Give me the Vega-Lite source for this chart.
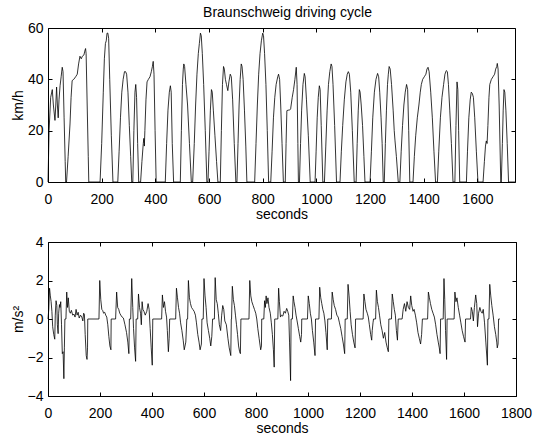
{
  "$schema": "https://vega.github.io/schema/vega-lite/v6.json",
  "padding": {"left": 10, "top": 5, "right": 5, "bottom": 2},
  "background": "white",
  "config": {
    "view": {"stroke": "black", "strokeWidth": 1},
    "font": "Liberation Sans",
    "axis": {
      "domain": false, "grid": false, "format": "d",
      "tickColor": "black", "tickSize": -4, "tickWidth": 1,
      "labelFont": "Liberation Sans", "titleFont": "Liberation Sans",
      "labelFontSize": 14, "titleFontSize": 14, "titleFontWeight": "normal",
      "labelColor": "black", "titleColor": "black",
      "labelFlush": false, "labelOverlap": false
    },
    "axisX": {"labelPadding": 14, "titlePadding": 1},
    "axisY": {"labelPadding": 9, "titlePadding": 2},
    "title": {"font": "Liberation Sans", "fontSize": 14, "fontWeight": "normal", "color": "black"}
  },
  "spacing": 12,
  "datasets": {
    "speed": [
      {"t":0,"v":0},{"t":4,"v":20},{"t":10,"v":33},{"t":16,"v":36},{"t":20,"v":30},{"t":26,"v":24},{"t":29,"v":30},{"t":32,"v":37},{"t":35,"v":30},{"t":38,"v":25},{"t":41,"v":32},{"t":45,"v":37.5},{"t":49,"v":41},{"t":53,"v":44.7},{"t":56,"v":43},{"t":60,"v":25},{"t":64,"v":8},{"t":66,"v":0},
      {"t":69,"v":0},{"t":75,"v":10},{"t":82,"v":22.6},{"t":86,"v":33},{"t":90,"v":39.5},{"t":96,"v":40},{"t":103,"v":41},{"t":109,"v":42},{"t":114,"v":46},{"t":119,"v":49},{"t":124,"v":48},{"t":128,"v":49},{"t":134,"v":49.5},{"t":137,"v":51},{"t":140,"v":52},{"t":142,"v":50},{"t":146,"v":30},{"t":150,"v":10},{"t":152,"v":0},
      {"t":194,"v":0},{"t":200,"v":15},{"t":206,"v":35},{"t":210,"v":48},{"t":214,"v":54},{"t":217,"v":55},{"t":220,"v":58},{"t":223,"v":58},{"t":226,"v":56},{"t":230,"v":40},{"t":236,"v":18},{"t":242,"v":0},
      {"t":260,"v":0},{"t":265,"v":12},{"t":270,"v":25},{"t":275,"v":35},{"t":280,"v":40},{"t":285,"v":43},{"t":289,"v":43},{"t":293,"v":42},{"t":298,"v":35},{"t":303,"v":22},{"t":308,"v":10},{"t":312,"v":0},
      {"t":316,"v":0},{"t":320,"v":20},{"t":324,"v":35},{"t":327,"v":38},{"t":330,"v":33},{"t":334,"v":15},{"t":338,"v":0},
      {"t":345,"v":0},{"t":350,"v":8},{"t":355,"v":15},{"t":357,"v":17},{"t":359,"v":14},{"t":361,"v":20},{"t":365,"v":32},{"t":369,"v":39},{"t":374,"v":40},{"t":380,"v":41},{"t":385,"v":43},{"t":389,"v":45},{"t":392,"v":47},{"t":395,"v":42},{"t":399,"v":20},{"t":403,"v":0},
      {"t":437,"v":0},{"t":442,"v":15},{"t":447,"v":28},{"t":452,"v":35},{"t":456,"v":37.5},{"t":459,"v":35},{"t":463,"v":15},{"t":468,"v":0},
      {"t":493,"v":0},{"t":497,"v":20},{"t":501,"v":38},{"t":504,"v":44},{"t":506,"v":46},{"t":509,"v":45},{"t":514,"v":38},{"t":520,"v":30},{"t":527,"v":15},{"t":534,"v":0},
      {"t":539,"v":0},{"t":545,"v":15},{"t":550,"v":30},{"t":555,"v":42},{"t":560,"v":50},{"t":564,"v":54},{"t":568,"v":58},{"t":571,"v":57},{"t":575,"v":50},{"t":580,"v":38},{"t":586,"v":20},{"t":592,"v":0},
      {"t":596,"v":0},{"t":600,"v":12},{"t":605,"v":28},{"t":609,"v":36},{"t":612,"v":35},{"t":616,"v":28},{"t":622,"v":18},{"t":628,"v":8},{"t":633,"v":0},
      {"t":642,"v":0},{"t":646,"v":20},{"t":650,"v":38},{"t":654,"v":45},{"t":657,"v":44},{"t":661,"v":40},{"t":665,"v":38},{"t":670,"v":35.6},{"t":674,"v":39},{"t":679,"v":42},{"t":683,"v":41},{"t":688,"v":32},{"t":694,"v":15},{"t":700,"v":0},
      {"t":704,"v":0},{"t":708,"v":15},{"t":712,"v":30},{"t":716,"v":40},{"t":720,"v":46},{"t":723,"v":45},{"t":727,"v":40},{"t":732,"v":28},{"t":737,"v":14},{"t":741,"v":0},
      {"t":770,"v":0},{"t":775,"v":15},{"t":780,"v":30},{"t":785,"v":42},{"t":790,"v":50},{"t":795,"v":55},{"t":800,"v":58},{"t":803,"v":57},{"t":807,"v":50},{"t":812,"v":38},{"t":817,"v":20},{"t":822,"v":0},
      {"t":830,"v":0},{"t":835,"v":12},{"t":840,"v":25},{"t":845,"v":33},{"t":850,"v":38},{"t":856,"v":41},{"t":859,"v":42},{"t":863,"v":40},{"t":867,"v":30},{"t":872,"v":15},{"t":877,"v":0},
      {"t":884,"v":0},{"t":887,"v":15},{"t":890,"v":27.8},{"t":895,"v":28},{"t":900,"v":28},{"t":904,"v":28.5},{"t":910,"v":33},{"t":915,"v":36},{"t":920,"v":40},{"t":925,"v":44.7},{"t":928,"v":38},{"t":931,"v":15},{"t":933,"v":0},
      {"t":937,"v":0},{"t":941,"v":15},{"t":945,"v":28},{"t":950,"v":38},{"t":955,"v":42.3},{"t":958,"v":41},{"t":963,"v":32},{"t":970,"v":18},{"t":977,"v":0},
      {"t":995,"v":0},{"t":999,"v":12},{"t":1003,"v":25},{"t":1007,"v":33},{"t":1011,"v":37.5},{"t":1014,"v":36},{"t":1018,"v":22},{"t":1024,"v":0},
      {"t":1030,"v":0},{"t":1035,"v":14},{"t":1040,"v":28},{"t":1045,"v":38},{"t":1050,"v":43},{"t":1055,"v":46},{"t":1058,"v":45},{"t":1062,"v":38},{"t":1068,"v":22},{"t":1075,"v":0},
      {"t":1088,"v":0},{"t":1093,"v":12},{"t":1098,"v":22},{"t":1104,"v":32},{"t":1110,"v":39},{"t":1115,"v":42},{"t":1119,"v":43},{"t":1123,"v":42},{"t":1128,"v":35},{"t":1134,"v":20},{"t":1141,"v":0},
      {"t":1148,"v":0},{"t":1152,"v":15},{"t":1156,"v":28},{"t":1160,"v":36},{"t":1163,"v":35},{"t":1167,"v":30},{"t":1172,"v":22},{"t":1177,"v":10},{"t":1181,"v":0},
      {"t":1200,"v":0},{"t":1205,"v":12},{"t":1210,"v":25},{"t":1216,"v":35},{"t":1222,"v":40},{"t":1228,"v":42.3},{"t":1232,"v":41},{"t":1236,"v":35},{"t":1241,"v":25},{"t":1245,"v":15},{"t":1249,"v":0},
      {"t":1253,"v":0},{"t":1257,"v":15},{"t":1261,"v":28},{"t":1265,"v":38},{"t":1268,"v":42},{"t":1271,"v":45},{"t":1275,"v":44},{"t":1280,"v":38},{"t":1286,"v":28},{"t":1290,"v":20},{"t":1293,"v":16},{"t":1298,"v":10},{"t":1305,"v":0},
      {"t":1311,"v":0},{"t":1316,"v":12},{"t":1321,"v":22},{"t":1326,"v":30},{"t":1331,"v":35},{"t":1336,"v":38},{"t":1340,"v":36},{"t":1344,"v":20},{"t":1348,"v":0},
      {"t":1360,"v":0},{"t":1365,"v":10},{"t":1370,"v":18},{"t":1376,"v":25},{"t":1382,"v":30},{"t":1387,"v":35},{"t":1391,"v":38},{"t":1396,"v":40},{"t":1402,"v":41},{"t":1408,"v":42},{"t":1412,"v":44},{"t":1416,"v":44.7},{"t":1420,"v":43},{"t":1426,"v":35},{"t":1432,"v":25},{"t":1438,"v":12},{"t":1444,"v":0},
      {"t":1451,"v":0},{"t":1456,"v":12},{"t":1462,"v":25},{"t":1468,"v":33},{"t":1474,"v":38},{"t":1479,"v":42},{"t":1484,"v":43.4},{"t":1488,"v":43},{"t":1492,"v":38},{"t":1497,"v":28},{"t":1503,"v":15},{"t":1509,"v":0},
      {"t":1516,"v":0},{"t":1520,"v":22},{"t":1524,"v":39},{"t":1527,"v":36},{"t":1530,"v":20},{"t":1534,"v":0},
      {"t":1559,"v":0},{"t":1563,"v":12},{"t":1568,"v":25},{"t":1573,"v":32},{"t":1577,"v":35},{"t":1581,"v":34.5},{"t":1585,"v":33},{"t":1590,"v":25},{"t":1596,"v":12},{"t":1602,"v":0},
      {"t":1621,"v":0},{"t":1626,"v":8},{"t":1630,"v":14},{"t":1633,"v":16},{"t":1636,"v":15},{"t":1639,"v":22},{"t":1643,"v":33},{"t":1646,"v":38},{"t":1652,"v":40},{"t":1658,"v":41},{"t":1664,"v":42},{"t":1668,"v":44},{"t":1672,"v":45},{"t":1674,"v":46.2},{"t":1677,"v":44},{"t":1681,"v":30},{"t":1687,"v":0},
      {"t":1689,"v":0},{"t":1693,"v":15},{"t":1696,"v":28},{"t":1699,"v":36},{"t":1702,"v":35},{"t":1706,"v":28},{"t":1711,"v":15},{"t":1716,"v":0},{"t":1740,"v":0}
    ],
    "accel": [
      {"t":0,"a":0},{"t":3,"a":0.5},{"t":6,"a":1.6},{"t":9,"a":1.2},{"t":12,"a":0.9},{"t":15,"a":0.4},{"t":18,"a":-0.4},{"t":22,"a":-0.8},{"t":26,"a":-1.05},{"t":28,"a":0.2},{"t":31,"a":0.95},{"t":34,"a":0.7},{"t":36,"a":-0.3},{"t":39,"a":-0.76},{"t":41,"a":0.3},{"t":44,"a":0.75},{"t":46,"a":0.6},{"t":49,"a":0.9},{"t":52,"a":-0.3},{"t":55,"a":-1.8},{"t":58,"a":-1.7},{"t":61,"a":-3.1},{"t":63,"a":-1.5},{"t":65,"a":0},
      {"t":69,"a":0},{"t":72,"a":1.4},{"t":75,"a":0.6},{"t":78,"a":1.1},{"t":82,"a":0.4},{"t":86,"a":0.3},{"t":90,"a":0.45},{"t":95,"a":0.2},{"t":100,"a":0.25},{"t":104,"a":0.1},{"t":108,"a":0.5},{"t":112,"a":0.2},{"t":116,"a":0.35},{"t":120,"a":0.05},{"t":125,"a":0.2},{"t":130,"a":0.1},{"t":134,"a":-0.1},{"t":137,"a":0.3},{"t":140,"a":0.25},{"t":143,"a":-0.8},{"t":147,"a":-1.9},{"t":150,"a":-2.1},{"t":152,"a":-1.5},{"t":153,"a":0},
      {"t":196,"a":0},{"t":199,"a":2.0},{"t":203,"a":1.0},{"t":207,"a":0.5},{"t":210,"a":0.45},{"t":214,"a":0.3},{"t":218,"a":0.35},{"t":222,"a":0.2},{"t":226,"a":0.1},{"t":230,"a":-0.3},{"t":234,"a":-0.9},{"t":238,"a":-1.4},{"t":242,"a":-1.6},{"t":243,"a":0},
      {"t":260,"a":0},{"t":264,"a":1.4},{"t":268,"a":0.6},{"t":272,"a":0.5},{"t":276,"a":0.3},{"t":280,"a":0.2},{"t":285,"a":0.1},{"t":290,"a":0.05},{"t":296,"a":-0.3},{"t":302,"a":-0.7},{"t":307,"a":-1.2},{"t":311,"a":-1.8},{"t":313,"a":0},
      {"t":318,"a":0},{"t":322,"a":2.1},{"t":326,"a":0.6},{"t":329,"a":-0.5},{"t":333,"a":-1.5},{"t":337,"a":-2.2},{"t":339,"a":0},
      {"t":345,"a":0},{"t":348,"a":1.3},{"t":352,"a":0.6},{"t":356,"a":0.3},{"t":359,"a":-0.3},{"t":362,"a":0.9},{"t":365,"a":0.5},{"t":369,"a":0.4},{"t":374,"a":0.2},{"t":380,"a":0.4},{"t":385,"a":0.8},{"t":389,"a":0.5},{"t":393,"a":-0.5},{"t":397,"a":-1.5},{"t":401,"a":-2.4},{"t":403,"a":0},
      {"t":437,"a":0},{"t":440,"a":1.25},{"t":444,"a":0.6},{"t":448,"a":0.9},{"t":452,"a":0.4},{"t":456,"a":0.1},{"t":459,"a":-0.6},{"t":463,"a":-1.7},{"t":466,"a":-1.0},{"t":468,"a":0},
      {"t":491,"a":0},{"t":494,"a":1.6},{"t":498,"a":1.1},{"t":502,"a":0.6},{"t":506,"a":0.3},{"t":510,"a":-0.2},{"t":515,"a":-0.6},{"t":520,"a":-1.1},{"t":524,"a":-1.6},{"t":530,"a":-1.2},{"t":534,"a":0},
      {"t":537,"a":0},{"t":540,"a":2.0},{"t":544,"a":1.1},{"t":548,"a":0.8},{"t":552,"a":0.6},{"t":557,"a":0.5},{"t":562,"a":0.4},{"t":567,"a":0.2},{"t":571,"a":-0.2},{"t":576,"a":-0.8},{"t":581,"a":-1.2},{"t":585,"a":-1.6},{"t":590,"a":-1.3},{"t":592,"a":0},
      {"t":597,"a":0},{"t":600,"a":2.1},{"t":604,"a":1.2},{"t":608,"a":0.6},{"t":612,"a":-0.2},{"t":617,"a":-0.6},{"t":622,"a":-1.0},{"t":626,"a":-1.4},{"t":630,"a":-0.9},{"t":633,"a":0},
      {"t":640,"a":0},{"t":643,"a":2.15},{"t":647,"a":1.0},{"t":651,"a":0.8},{"t":655,"a":0.3},{"t":659,"a":-0.3},{"t":664,"a":-0.6},{"t":668,"a":0.2},{"t":672,"a":0.7},{"t":676,"a":0.5},{"t":680,"a":-0.1},{"t":686,"a":-0.3},{"t":692,"a":-1.0},{"t":697,"a":-1.5},{"t":703,"a":-1.9},{"t":705,"a":0},
      {"t":706,"a":0},{"t":709,"a":1.7},{"t":713,"a":1.0},{"t":717,"a":0.7},{"t":721,"a":0.2},{"t":725,"a":-0.3},{"t":729,"a":-0.8},{"t":733,"a":-1.4},{"t":737,"a":-1.7},{"t":740,"a":-1.8},{"t":742,"a":0},
      {"t":773,"a":0},{"t":776,"a":2.0},{"t":780,"a":1.2},{"t":784,"a":0.9},{"t":789,"a":0.7},{"t":794,"a":0.5},{"t":799,"a":0.3},{"t":803,"a":0},{"t":807,"a":-0.5},{"t":812,"a":-1.0},{"t":818,"a":-1.6},{"t":821,"a":-1.4},{"t":822,"a":0},
      {"t":830,"a":0},{"t":833,"a":0.95},{"t":836,"a":0.6},{"t":839,"a":1.2},{"t":842,"a":0.8},{"t":846,"a":1.1},{"t":850,"a":0.6},{"t":855,"a":0.3},{"t":859,"a":-0.2},{"t":863,"a":-0.8},{"t":867,"a":-1.6},{"t":870,"a":-2.5},{"t":872,"a":0},
      {"t":884,"a":0},{"t":887,"a":1.6},{"t":890,"a":0.9},{"t":894,"a":0.1},{"t":898,"a":0.2},{"t":903,"a":0.15},{"t":908,"a":0.4},{"t":913,"a":0.3},{"t":918,"a":0.55},{"t":922,"a":0.4},{"t":926,"a":0.2},{"t":929,"a":-1.2},{"t":933,"a":-3.2},{"t":935,"a":0},
      {"t":940,"a":0},{"t":943,"a":1.2},{"t":946,"a":0.9},{"t":950,"a":0.6},{"t":954,"a":0.2},{"t":958,"a":-0.1},{"t":963,"a":-0.5},{"t":968,"a":-0.9},{"t":972,"a":-1.2},{"t":975,"a":-0.8},{"t":976,"a":0},
      {"t":998,"a":0},{"t":1001,"a":1.2},{"t":1005,"a":0.8},{"t":1009,"a":0.3},{"t":1013,"a":0},{"t":1017,"a":-0.6},{"t":1022,"a":-1.2},{"t":1027,"a":-1.9},{"t":1029,"a":0},
      {"t":1042,"a":0},{"t":1045,"a":1.65},{"t":1049,"a":1.1},{"t":1053,"a":0.8},{"t":1057,"a":0.5},{"t":1061,"a":0.3},{"t":1065,"a":-0.1},{"t":1069,"a":-0.7},{"t":1074,"a":-1.6},{"t":1076,"a":0},
      {"t":1090,"a":0},{"t":1093,"a":1.4},{"t":1097,"a":1.0},{"t":1101,"a":0.7},{"t":1106,"a":0.5},{"t":1111,"a":0.2},{"t":1116,"a":0.1},{"t":1121,"a":-0.2},{"t":1126,"a":-0.5},{"t":1131,"a":-0.9},{"t":1136,"a":-1.3},{"t":1141,"a":-1.8},{"t":1143,"a":0},
      {"t":1151,"a":0},{"t":1154,"a":1.8},{"t":1158,"a":1.2},{"t":1162,"a":0.4},{"t":1166,"a":-0.3},{"t":1171,"a":-0.8},{"t":1176,"a":-1.2},{"t":1181,"a":-1.5},{"t":1183,"a":0},
      {"t":1212,"a":0},{"t":1215,"a":1.3},{"t":1219,"a":0.9},{"t":1223,"a":0.5},{"t":1228,"a":0.3},{"t":1232,"a":0.1},{"t":1236,"a":-0.3},{"t":1241,"a":-0.8},{"t":1245,"a":-1.1},{"t":1247,"a":-0.6},{"t":1250,"a":-0.2},{"t":1252,"a":0},
      {"t":1260,"a":0},{"t":1263,"a":1.5},{"t":1267,"a":0.9},{"t":1271,"a":0.6},{"t":1275,"a":0.2},{"t":1280,"a":-0.3},{"t":1285,"a":-0.6},{"t":1290,"a":-1.0},{"t":1295,"a":-0.7},{"t":1300,"a":-1.2},{"t":1305,"a":-1.5},{"t":1309,"a":-1.7},{"t":1311,"a":0},
      {"t":1321,"a":0},{"t":1324,"a":1.3},{"t":1328,"a":0.9},{"t":1332,"a":0.5},{"t":1336,"a":0.2},{"t":1340,"a":-0.6},{"t":1344,"a":-1.1},{"t":1347,"a":0},
      {"t":1362,"a":0},{"t":1366,"a":0.5},{"t":1371,"a":0.8},{"t":1376,"a":0.4},{"t":1381,"a":0.9},{"t":1386,"a":0.6},{"t":1391,"a":0.5},{"t":1395,"a":1.2},{"t":1399,"a":0.7},{"t":1404,"a":0.4},{"t":1408,"a":0.5},{"t":1413,"a":0.2},{"t":1418,"a":-0.2},{"t":1423,"a":-0.7},{"t":1428,"a":-1.0},{"t":1433,"a":-1.3},{"t":1437,"a":-0.8},{"t":1440,"a":0},
      {"t":1460,"a":0},{"t":1463,"a":1.4},{"t":1467,"a":1.1},{"t":1471,"a":0.8},{"t":1476,"a":0.5},{"t":1481,"a":0.3},{"t":1486,"a":0.1},{"t":1491,"a":-0.3},{"t":1496,"a":-0.8},{"t":1501,"a":-1.2},{"t":1505,"a":-1.5},{"t":1508,"a":-1.8},{"t":1510,"a":0},
      {"t":1520,"a":0},{"t":1523,"a":2.1},{"t":1526,"a":1.0},{"t":1529,"a":-0.6},{"t":1533,"a":-2.1},{"t":1535,"a":0},
      {"t":1562,"a":0},{"t":1565,"a":1.4},{"t":1569,"a":0.9},{"t":1573,"a":1.1},{"t":1578,"a":0.6},{"t":1583,"a":0.2},{"t":1588,"a":-0.2},{"t":1593,"a":-0.6},{"t":1598,"a":-0.9},{"t":1604,"a":-1.2},{"t":1606,"a":0},
      {"t":1625,"a":0},{"t":1628,"a":0.6},{"t":1632,"a":0.4},{"t":1636,"a":-0.1},{"t":1640,"a":0.6},{"t":1645,"a":1.25},{"t":1649,"a":0.8},{"t":1652,"a":-0.4},{"t":1656,"a":0.3},{"t":1661,"a":0.6},{"t":1665,"a":0.4},{"t":1670,"a":0.3},{"t":1674,"a":0.5},{"t":1679,"a":-0.2},{"t":1684,"a":-1.2},{"t":1690,"a":-2.4},{"t":1692,"a":0},
      {"t":1696,"a":0},{"t":1699,"a":1.8},{"t":1703,"a":1.2},{"t":1707,"a":0.7},{"t":1712,"a":0.2},{"t":1717,"a":-0.4},{"t":1722,"a":-0.8},{"t":1726,"a":-1.2},{"t":1728,"a":-1.5},{"t":1731,"a":-1.3},{"t":1733,"a":0},{"t":1738,"a":0}
    ]
  },
  "vconcat": [
    {
      "width": 467, "height": 154,
      "title": {"text": "Braunschweig driving cycle", "frame": "group", "offset": 1, "dx": 6},
      "data": {"name": "speed"},
      "layer": [
        {
          "mark": {"type": "line", "color": "black", "strokeWidth": 0.8},
          "encoding": {
            "x": {"field": "t", "type": "quantitative", "scale": {"domain": [0, 1740], "nice": false},
                  "axis": {"values": [0, 200, 400, 600, 800, 1000, 1200, 1400, 1600], "title": "seconds"}},
            "y": {"field": "v", "type": "quantitative", "scale": {"domain": [0, 60], "nice": false},
                  "axis": {"values": [0, 20, 40, 60], "title": "km/h"}}
          }
        },
        {
          "mark": {"type": "line", "strokeOpacity": 0},
          "encoding": {
            "x": {"field": "t", "type": "quantitative",
                  "axis": {"orient": "top", "values": [0, 200, 400, 600, 800, 1000, 1200, 1400, 1600], "labels": false, "title": null}},
            "y": {"field": "v", "type": "quantitative",
                  "axis": {"orient": "right", "values": [0, 20, 40, 60], "labels": false, "title": null}}
          }
        }
      ],
      "resolve": {"axis": {"x": "independent", "y": "independent"}}
    },
    {
      "width": 468, "height": 154,
      "data": {"name": "accel"},
      "layer": [
        {
          "mark": {"type": "line", "color": "black", "strokeWidth": 0.8},
          "encoding": {
            "x": {"field": "t", "type": "quantitative", "scale": {"domain": [0, 1800], "nice": false},
                  "axis": {"values": [0, 200, 400, 600, 800, 1000, 1200, 1400, 1600, 1800], "title": "seconds"}},
            "y": {"field": "a", "type": "quantitative", "scale": {"domain": [-4, 4], "nice": false},
                  "axis": {"values": [-4, -2, 0, 2, 4], "title": "m/s²"}}
          }
        },
        {
          "mark": {"type": "line", "strokeOpacity": 0},
          "encoding": {
            "x": {"field": "t", "type": "quantitative",
                  "axis": {"orient": "top", "values": [0, 200, 400, 600, 800, 1000, 1200, 1400, 1600, 1800], "labels": false, "title": null}},
            "y": {"field": "a", "type": "quantitative",
                  "axis": {"orient": "right", "values": [-4, -2, 0, 2, 4], "labels": false, "title": null}}
          }
        }
      ],
      "resolve": {"axis": {"x": "independent", "y": "independent"}}
    }
  ]
}
